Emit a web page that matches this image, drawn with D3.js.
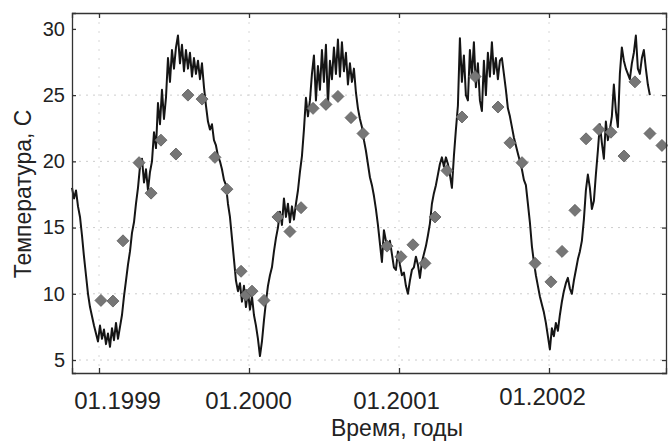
<!DOCTYPE html>
<html>
<head>
<meta charset="utf-8">
<script src="https://cdn.jsdelivr.net/npm/d3@7"></script>
<style>
  body { margin: 0; background: #fff; }
  text { font-family: "Liberation Sans", Arial, sans-serif; fill: #222; }
</style>
</head>
<body>
<div id="chart"></div>
<script>
// measured series (water temperature), regular step in years
var lineStart = 1998.82;
var lineStep = 0.01333;
var lineValues = [
  18.0, 17.2, 17.8, 16.6, 15.8, 14.4, 12.8, 11.4, 10.0, 9.0,
  8.3, 7.6, 7.0, 6.4, 7.6, 6.6, 7.3, 6.2, 7.0, 6.0,
  7.4, 6.5, 7.8, 6.6, 7.5, 8.4, 9.8, 11.0, 12.2, 13.2,
  14.6, 15.4, 16.8, 18.0, 19.6, 20.2, 18.4, 19.4, 17.8, 19.2,
  20.0, 22.2, 21.0, 24.4, 22.8, 25.4, 23.2, 24.8, 27.8, 26.0,
  28.4, 27.0, 28.6, 29.5, 27.4, 28.8, 26.8, 28.4, 27.0, 28.2,
  26.4, 27.8, 26.6, 27.6, 26.2, 27.4, 25.6, 24.2, 23.0, 22.4,
  22.8, 21.6, 21.2, 20.4, 20.0, 19.4, 18.6, 18.2, 16.8, 15.8,
  14.2, 12.6, 11.0, 10.2, 10.8, 9.4, 10.6, 9.0, 10.2, 8.8,
  9.8, 8.4, 7.6, 6.6, 5.3, 6.4, 8.0, 9.4, 10.6, 11.4,
  12.0, 13.2, 14.2, 15.0, 16.2, 15.2, 17.2, 15.8, 16.8, 15.4,
  16.6, 15.6, 16.8, 17.8, 19.2, 20.4, 22.4, 24.8, 23.4, 24.6,
  26.6, 28.0, 24.6, 27.2, 25.4, 28.4, 26.0, 28.8, 24.2, 27.6,
  26.2, 28.6, 26.6, 29.2, 26.4, 29.0, 26.8, 28.2, 25.8, 27.4,
  26.0, 27.0, 25.2, 24.0, 23.2, 22.6, 21.6, 20.8, 19.8, 18.8,
  18.2, 17.4, 16.4, 15.2, 13.8, 12.4, 14.8, 14.0, 13.4, 14.0,
  13.0, 12.0, 11.8, 13.2, 12.2, 11.4, 11.6, 10.6, 10.0, 11.0,
  11.8, 12.0, 12.8, 12.2, 11.2, 12.4, 13.0, 13.6, 14.4, 15.3,
  16.8, 17.6, 18.2, 19.0, 19.8, 20.3, 19.6, 20.3, 19.8, 19.0,
  18.0, 20.4, 22.4, 24.2, 29.3, 26.0, 28.0, 25.0, 24.6, 28.4,
  26.4, 29.0, 25.6, 27.4, 24.6, 23.8, 27.6, 25.0, 28.2, 26.4,
  29.0, 26.6, 27.8, 26.2, 27.6, 27.8, 26.6, 25.4, 24.0, 23.4,
  22.6, 21.8, 21.2, 20.6, 20.0, 19.4, 18.6, 18.2, 16.8, 15.4,
  13.6, 12.4, 11.4, 10.6, 9.8, 9.2, 8.6, 7.8, 6.8, 5.8,
  7.4, 6.8, 7.8, 7.2, 8.4, 9.4, 10.2, 10.8, 11.2, 10.4,
  10.0, 11.0, 11.8, 12.6, 13.2, 14.0, 15.6, 17.8, 19.0, 18.0,
  16.4, 17.0, 19.0, 20.8, 22.8, 21.4, 20.2, 23.0, 21.6, 22.4,
  23.4, 25.8, 23.8, 22.6, 26.6, 28.6, 27.6, 27.0, 26.6, 26.2,
  27.4, 28.2, 29.5, 27.0, 26.6, 27.8, 28.4, 27.0, 25.8, 25.0
];

// observations (diamonds): decimal year and temperature
var obsTime = [
  1999.013, 1999.093, 1999.160, 1999.267, 1999.347, 1999.413, 1999.513, 1999.593,
  1999.687, 1999.773, 1999.853, 1999.947, 1999.980, 2000.020, 2000.100, 2000.193,
  2000.273, 2000.347, 2000.427, 2000.513, 2000.593, 2000.680, 2000.760, 2000.920,
  2001.013, 2001.093, 2001.173, 2001.240, 2001.320, 2001.420, 2001.507, 2001.660,
  2001.740, 2001.820, 2001.907, 2002.013, 2002.087, 2002.173, 2002.247, 2002.333,
  2002.413, 2002.500, 2002.573, 2002.673, 2002.753
];
var obsTemp = [
  9.5, 9.45, 14.0, 19.9, 17.6, 21.6, 20.55, 25.0,
  24.7, 20.3, 17.9, 11.7, 9.9, 10.2, 9.5, 15.8,
  14.7, 16.5, 24.0, 24.3, 24.9, 23.3, 22.1, 13.6,
  12.8, 13.7, 12.3, 15.8, 19.3, 23.35, 26.4, 24.1,
  21.4, 19.9, 12.3, 10.9, 13.2, 16.3, 21.7, 22.4,
  22.2, 20.4, 26.0, 22.1, 21.2
];

var yTicks = [5, 10, 15, 20, 25, 30];
var xTicks = [1999, 2000, 2001, 2002];

var width = 668, height = 448;
var padL = 72, padR = 666, padT = 13, padB = 373;
// the scanned original has its date labels set a little off their ticks
var labelDx = [18, -1, -3, -7], labelDy = [0, 0, 0, -4];

var svg = d3.select("#chart").append("svg")
  .attr("width", width)
  .attr("height", height);

var x = d3.scaleLinear().domain([1998.82, 2002.78]).range([padL, padR]);
var y = d3.scaleLinear().domain([4.02, 31.2]).range([padB, padT]);

// faint dotted grid
svg.append("g").selectAll("line")
  .data(yTicks.slice(0, 5)).enter().append("line")
  .attr("x1", padL).attr("x2", padR)
  .attr("y1", d => y(d)).attr("y2", d => y(d))
  .attr("stroke", "#cdcdcd").attr("stroke-dasharray", "2,5");
svg.append("g").selectAll("line")
  .data(xTicks).enter().append("line")
  .attr("x1", d => x(d)).attr("x2", d => x(d))
  .attr("y1", padT).attr("y2", padB)
  .attr("stroke", "#d8d8d8").attr("stroke-dasharray", "2,7");

// the measured line
var pts = lineValues.map((v, i) => [lineStart + i * lineStep, v]);
var line = d3.line().x(d => x(d[0])).y(d => y(d[1]));
svg.append("path")
  .datum(pts)
  .attr("d", line)
  .attr("fill", "none")
  .attr("stroke", "#151515")
  .attr("stroke-width", 2)
  .attr("stroke-linejoin", "round");

// diamonds
var diamond = d3.symbol().type(d3.symbolSquare).size(72);
svg.append("g").selectAll("path")
  .data(obsTime.map((t, i) => [t, obsTemp[i]]))
  .enter().append("path")
  .attr("d", diamond)
  .attr("transform", d => "translate(" + x(d[0]) + "," + y(d[1]) + ") rotate(45)")
  .attr("fill", "#767676")
  .attr("stroke", "#606060")
  .attr("stroke-width", 0.8);

// axes, ticks pointing inward
var fmtYear = d => "01." + d;
var axL = svg.append("g").attr("transform", "translate(" + padL + ",0)")
  .call(d3.axisLeft(y).tickValues(yTicks).tickSize(-4).tickPadding(7));
var axR = svg.append("g").attr("transform", "translate(" + padR + ",0)")
  .call(d3.axisRight(y).tickValues(yTicks).tickSize(-4).tickFormat(""));
var axB = svg.append("g").attr("transform", "translate(0," + padB + ")")
  .call(d3.axisBottom(x).tickValues(xTicks).tickSize(-5).tickPadding(19).tickFormat(fmtYear));
var axT = svg.append("g").attr("transform", "translate(0," + padT + ")")
  .call(d3.axisTop(x).tickValues(xTicks).tickSize(-5).tickFormat(""));

[axL, axR, axB, axT].forEach(function(g) {
  g.select(".domain").attr("stroke", "#333").attr("stroke-width", 1.3);
  g.selectAll(".tick line").attr("stroke", "#333").attr("stroke-width", 1.3);
});
axL.selectAll("text").style("font-size", "20px").attr("fill", "#222");
axB.selectAll("text").style("font-size", "24px").attr("fill", "#222")
  .attr("transform", (d, i) => "translate(" + labelDx[i] + "," + labelDy[i] + ")");

// axis titles
svg.append("text")
  .attr("x", 397).attr("y", 436)
  .attr("text-anchor", "middle")
  .style("font-size", "23px")
  .text("Время, годы");

svg.append("text")
  .attr("transform", "translate(31,194) rotate(-90)")
  .attr("text-anchor", "middle")
  .style("font-size", "23px")
  .text("Температура, С");
</script>
</body>
</html>
